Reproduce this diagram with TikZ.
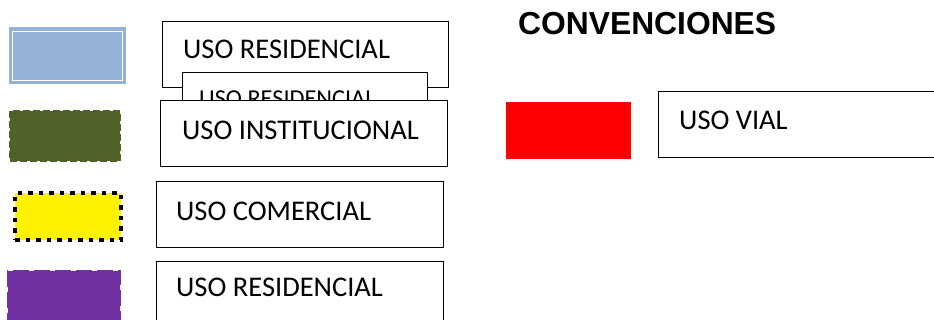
\documentclass[tikz,border=0pt]{standalone}
\usepackage{fontspec}
\setmainfont{Carlito}
\newfontfamily\titlefont{Liberation Sans}
\definecolor{cblue}{HTML}{95B3D7}
\definecolor{cgreen}{HTML}{4F6228}
\definecolor{cpurple}{HTML}{7030A0}
\tikzset{
  txtbox/.style={draw=black, fill=white, line width=1pt, rectangle, inner sep=0pt},
  lbl/.style={inner sep=0pt, font=\fontsize{28.5}{31}\selectfont},
  lblsmall/.style={inner sep=0pt, font=\fontsize{24.3}{27}\selectfont},
  swatch/.style={rectangle, inner sep=0pt},
}
\begin{document}
\begin{tikzpicture}[x=1pt,y=-1pt]
\useasboundingbox (0,0) rectangle (934,320);
\clip (0,0) rectangle (934,320);
% swatches
\node[swatch, fill=cblue, minimum width=117pt, minimum height=57pt] (sblue) at (67.5,55.5) {};
\draw[white, line width=1pt] (12.5,31.5) rectangle (122.5,80.5);
\node[swatch, fill=cgreen, draw=cgreen, line width=2pt, dash pattern=on 7pt off 3pt, minimum width=110pt, minimum height=50pt] (sgreen) at (64.5,136.5) {};
\node[swatch, fill=yellow, draw=black, line width=4pt, dash pattern=on 4.5pt off 6pt, minimum width=106pt, minimum height=47pt] (syellow) at (68,217) {};
\node[swatch, fill=cpurple, draw=cpurple, line width=2pt, dash pattern=on 16pt off 5pt, minimum width=112pt, minimum height=70pt] (spurple) at (64,306) {};
\node[swatch, fill=red, minimum width=125pt, minimum height=57pt] (sred) at (568.5,130.5) {};
% text boxes
\node[txtbox, minimum width=286pt, minimum height=66pt] (b1) at (305,55) {};
\node[lbl, anchor=base west] (t1) at (183,59) {USO RESIDENCIAL};
\node[txtbox, minimum width=245pt, minimum height=40pt] (b2) at (304.5,93) {};
\node[lblsmall, anchor=base west] (t2) at (199,106.5) {USO RESIDENCIAL};
\node[txtbox, minimum width=287pt, minimum height=66pt] (b3) at (303.5,134) {};
\node[lbl, anchor=base west] (t3) at (182,140) {USO INSTITUCIONAL};
\node[txtbox, minimum width=287pt, minimum height=66pt] (b4) at (299.5,215) {};
\node[lbl, anchor=base west] (t4) at (176,221) {USO COMERCIAL};
\node[txtbox, minimum width=287pt, minimum height=66pt] (b5) at (299.5,295) {};
\node[lbl, anchor=base west] (t5) at (176,297) {USO RESIDENCIAL};
\node[txtbox, minimum width=290pt, minimum height=66pt] (b6) at (803,125) {};
\node[lbl, anchor=base west] (t6) at (679,130) {USO VIAL};
% title
\node[inner sep=0pt, anchor=base west, font=\titlefont\bfseries\fontsize{31.8}{34}\selectfont] (title) at (518,35) {CONVENCIONES};
\end{tikzpicture}
\end{document}
